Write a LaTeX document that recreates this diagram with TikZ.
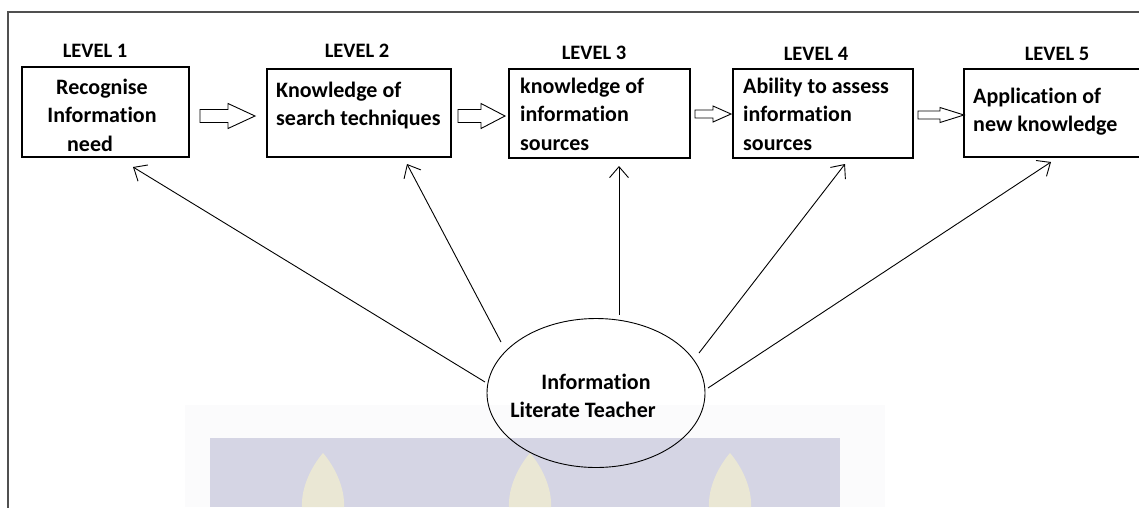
\documentclass[tikz,border=0pt]{standalone}
\usepackage{fontspec}
\setmainfont{Carlito}[RawFeature={-liga}]
\usetikzlibrary{arrows.meta,shapes.geometric}
\definecolor{framegray}{HTML}{505050}
\definecolor{wmblue}{HTML}{D5D5E4}
\definecolor{wmflame}{HTML}{EAE7D4}
\definecolor{wmhalo}{HTML}{FBFBFC}
\newcommand\blkarrow[6]{% x0, x1, ymid, shaft half, head half, head start
  \draw[blockarr] (#1,#3-#4) -- (#6,#3-#4) -- (#6,#3-#5) -- (#2,#3) -- (#6,#3+#5) -- (#6,#3+#4) -- (#1,#3+#4) -- cycle;}
\newcommand\flame[2]{% x centre, top y
  \fill[wmflame] (#1,#2) .. controls (#1+12,#2+14) and (#1+22,#2+35) .. (#1+21,507)
    -- (#1-21,507) .. controls (#1-22,#2+35) and (#1-12,#2+14) .. (#1,#2) -- cycle;}
\begin{document}
\begin{tikzpicture}[x=1pt,y=-1pt,
  lvl/.style={font=\fontsize{20.5}{24}\selectfont\bfseries, inner sep=0pt, anchor=base},
  boxnode/.style={draw=black, line width=1.2pt, rectangle, inner sep=0pt},
  boxtext/.style={font=\fontsize{22}{28.5}\selectfont\bfseries, inner sep=0pt, anchor=base west},
  blockarr/.style={draw=black, line width=0.9pt, fill=white, line join=miter},
  ray/.style={draw=black, line width=0.9pt, -{Straight Barb[length=11pt,width=19pt,line width=0.9pt]}}]
\useasboundingbox (0,0) rectangle (1139,507);
\clip (0,0) rectangle (1139,507);
% watermark
\fill[wmhalo] (185,405) rectangle (885,507);
\fill[wmblue] (210,438) rectangle (840,507);
\flame{323}{453}
\flame{530}{453}
\flame{730}{453}
% frame
\draw[framegray, line width=1.6pt] (8,530) -- (8,12) -- (1160,12);
% level labels
\node[lvl] (l1) at (95,57) {LEVEL 1};
\node[lvl] (l2) at (357,57) {LEVEL 2};
\node[lvl] (l3) at (594,59) {LEVEL 3};
\node[lvl] (l4) at (816,60) {LEVEL 4};
\node[lvl] (l5) at (1057,60) {LEVEL 5};
% boxes
\node[boxnode, minimum width=167pt, minimum height=90pt] (b1) at (105.5,112) {};
\node[boxnode, minimum width=184pt, minimum height=88pt] (b2) at (359,113) {};
\node[boxnode, minimum width=181pt, minimum height=89pt] (b3) at (599.5,113.5) {};
\node[boxnode, minimum width=180pt, minimum height=89pt] (b4) at (823,113.5) {};
\node[boxnode, minimum width=196pt, minimum height=88pt] (b5) at (1062,113) {};
% box texts
\node[boxtext, anchor=base] (t1) at (102,94) {\begin{tabular}[t]{@{}c@{}}Recognise\\Information\\need\hspace*{24pt}\end{tabular}};
\node[boxtext] (t2) at (276,97) {\begin{tabular}[t]{@{}l@{}}Knowledge of\\search techniques\end{tabular}};
\node[boxtext] (t3) at (520,93) {\begin{tabular}[t]{@{}l@{}}knowledge of\\information\\sources\end{tabular}};
\node[boxtext] (t4) at (743,93) {\begin{tabular}[t]{@{}l@{}}Ability to assess\\information\\sources\end{tabular}};
\node[boxtext] (t5) at (973,103) {\begin{tabular}[t]{@{}l@{}}Application of\\new knowledge\end{tabular}};
% block arrows between levels
\blkarrow{200}{255}{116}{6.5}{12.5}{228}
\blkarrow{458}{505}{116}{6.5}{12.5}{481}
\blkarrow{695}{731}{114}{4}{8}{713}
\blkarrow{918}{964}{115}{4}{7.5}{940}
% central ellipse
\node[draw=black, line width=0.9pt, ellipse, minimum width=218pt, minimum height=149pt, inner sep=0pt] (teacher) at (596,393) {};
\node[boxtext, anchor=base] (tt) at (583,389) {\begin{tabular}[t]{@{}c@{}}\hspace*{26pt}Information\\Literate Teacher\end{tabular}};
% rays
\coordinate (s1) at (485,382);
\coordinate (s2) at (501,342);
\coordinate (s3) at (619,315);
\coordinate (s4) at (699,353);
\coordinate (s5) at (708,388);
\coordinate (e1) at (133,167);
\coordinate (e2) at (407,164);
\coordinate (e3) at (619,166);
\coordinate (e4) at (845,164);
\coordinate (e5) at (1051,162);
\draw[ray] (s1) -- (e1);
\draw[ray] (s2) -- (e2);
\draw[ray] (s3) -- (e3);
\draw[ray] (s4) -- (e4);
\draw[ray] (s5) -- (e5);
\end{tikzpicture}
\end{document}
